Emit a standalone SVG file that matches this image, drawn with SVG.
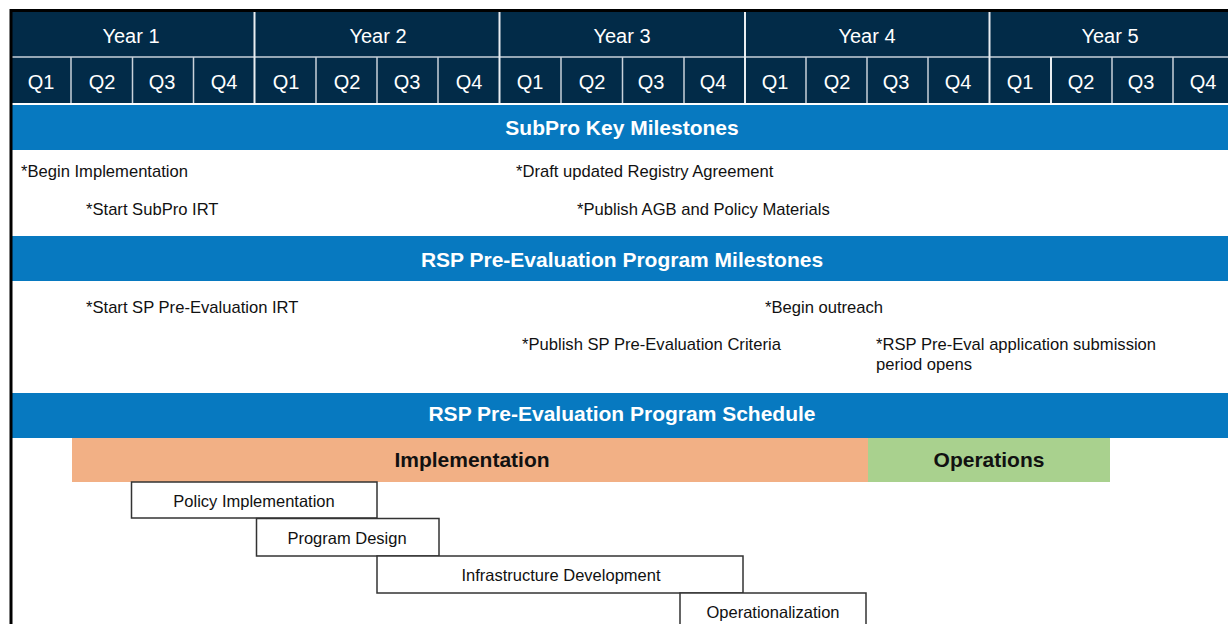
<svg xmlns="http://www.w3.org/2000/svg" width="1228" height="624" viewBox="0 0 1228 624">
<style>
  text { font-family: "Liberation Sans", Arial, sans-serif; }
  .hdr { fill: #022b48; }
  .hdrtxt { fill: #ffffff; font-size: 20px; text-anchor: middle; }
  .qline { stroke: #c9d2da; stroke-width: 1.5; }
  .yline { stroke: #e8edf1; stroke-width: 2; }
  .band { fill: #0779c0; }
  .bandtxt { fill: #ffffff; font-size: 21px; font-weight: bold; text-anchor: middle; }
  .ms { fill: #111111; font-size: 16.6px; }
  .box { fill: #ffffff; stroke: #333333; stroke-width: 1.5; }
  .boxtxt { fill: #111111; font-size: 16.5px; text-anchor: middle; }
  .phasetxt { fill: #111111; font-size: 21px; font-weight: bold; text-anchor: middle; }
</style>
<rect x="0" y="0" width="1228" height="624" fill="#ffffff"/>

<g id="header">
  <rect class="hdr" x="12" y="12" width="1216" height="91"/>
  <line class="qline" x1="12" y1="57" x2="1228" y2="57"/>
  <g id="quarter-lines">
    <line class="qline" x1="71" y1="57" x2="71" y2="103"/>
    <line class="qline" x1="132.5" y1="57" x2="132.5" y2="103"/>
    <line class="qline" x1="193.5" y1="57" x2="193.5" y2="103"/>
    <line class="qline" x1="316" y1="57" x2="316" y2="103"/>
    <line class="qline" x1="377" y1="57" x2="377" y2="103"/>
    <line class="qline" x1="438" y1="57" x2="438" y2="103"/>
    <line class="qline" x1="561" y1="57" x2="561" y2="103"/>
    <line class="qline" x1="622.5" y1="57" x2="622.5" y2="103"/>
    <line class="qline" x1="684" y1="57" x2="684" y2="103"/>
    <line class="qline" x1="806" y1="57" x2="806" y2="103"/>
    <line class="qline" x1="867" y1="57" x2="867" y2="103"/>
    <line class="qline" x1="928" y1="57" x2="928" y2="103"/>
    <line class="yline" x1="1051" y1="57" x2="1051" y2="103"/>
    <line class="qline" x1="1112" y1="57" x2="1112" y2="103"/>
    <line class="qline" x1="1173" y1="57" x2="1173" y2="103"/>
  </g>
  <g id="year-lines">
    <line class="yline" x1="254.5" y1="12" x2="254.5" y2="103"/>
    <line class="yline" x1="499.5" y1="12" x2="499.5" y2="103"/>
    <line class="yline" x1="745" y1="12" x2="745" y2="103"/>
    <line class="yline" x1="989.5" y1="12" x2="989.5" y2="103"/>
  </g>
  <g id="years">
    <text class="hdrtxt" x="131" y="43">Year 1</text>
    <text class="hdrtxt" x="378" y="43">Year 2</text>
    <text class="hdrtxt" x="622" y="43">Year 3</text>
    <text class="hdrtxt" x="867" y="43">Year 4</text>
    <text class="hdrtxt" x="1110" y="43">Year 5</text>
  </g>
  <g id="quarters">
    <text class="hdrtxt" x="41" y="89">Q1</text>
    <text class="hdrtxt" x="102" y="89">Q2</text>
    <text class="hdrtxt" x="162" y="89">Q3</text>
    <text class="hdrtxt" x="224" y="89">Q4</text>
    <text class="hdrtxt" x="286" y="89">Q1</text>
    <text class="hdrtxt" x="347" y="89">Q2</text>
    <text class="hdrtxt" x="407" y="89">Q3</text>
    <text class="hdrtxt" x="469" y="89">Q4</text>
    <text class="hdrtxt" x="530" y="89">Q1</text>
    <text class="hdrtxt" x="592" y="89">Q2</text>
    <text class="hdrtxt" x="651" y="89">Q3</text>
    <text class="hdrtxt" x="713" y="89">Q4</text>
    <text class="hdrtxt" x="775" y="89">Q1</text>
    <text class="hdrtxt" x="837" y="89">Q2</text>
    <text class="hdrtxt" x="896" y="89">Q3</text>
    <text class="hdrtxt" x="958" y="89">Q4</text>
    <text class="hdrtxt" x="1020" y="89">Q1</text>
    <text class="hdrtxt" x="1081" y="89">Q2</text>
    <text class="hdrtxt" x="1141" y="89">Q3</text>
    <text class="hdrtxt" x="1203" y="89">Q4</text>
  </g>
</g>

<g id="band-subpro">
  <rect class="band" x="12" y="105" width="1216" height="45"/>
  <text class="bandtxt" x="622" y="135">SubPro Key Milestones</text>
</g>
<g id="subpro-milestones">
  <text class="ms" x="21" y="177">*Begin Implementation</text>
  <text class="ms" x="86" y="215">*Start SubPro IRT</text>
  <text class="ms" x="516" y="177">*Draft updated Registry Agreement</text>
  <text class="ms" x="577" y="215">*Publish AGB and Policy Materials</text>
</g>

<g id="band-rsp-milestones">
  <rect class="band" x="12" y="236" width="1216" height="45"/>
  <text class="bandtxt" x="622" y="267">RSP Pre-Evaluation Program Milestones</text>
</g>
<g id="rsp-milestones">
  <text class="ms" x="86" y="313">*Start SP Pre-Evaluation IRT</text>
  <text class="ms" x="765" y="313">*Begin outreach</text>
  <text class="ms" x="522" y="350">*Publish SP Pre-Evaluation Criteria</text>
  <text class="ms" x="876" y="350">*RSP Pre-Eval application submission</text>
  <text class="ms" x="876" y="370">period opens</text>
</g>

<g id="band-rsp-schedule">
  <rect class="band" x="12" y="393" width="1216" height="45"/>
  <text class="bandtxt" x="622" y="421">RSP Pre-Evaluation Program Schedule</text>
</g>

<g id="phase-implementation">
  <rect x="72" y="438" width="796" height="44" fill="#f2b085"/>
  <text class="phasetxt" x="472" y="467">Implementation</text>
</g>
<g id="phase-operations">
  <rect x="868" y="438" width="242" height="44" fill="#a9d18e"/>
  <text class="phasetxt" x="989" y="467">Operations</text>
</g>

<g id="task-policy-implementation">
  <rect class="box" x="131.5" y="482" width="245.5" height="36"/>
  <text class="boxtxt" x="254" y="507">Policy Implementation</text>
</g>
<g id="task-program-design">
  <rect class="box" x="256.5" y="518.5" width="182.5" height="37.5"/>
  <text class="boxtxt" x="347" y="544">Program Design</text>
</g>
<g id="task-infrastructure-development">
  <rect class="box" x="377" y="556" width="366" height="37"/>
  <text class="boxtxt" x="561" y="581">Infrastructure Development</text>
</g>
<g id="task-operationalization">
  <rect class="box" x="680" y="593" width="186" height="40"/>
  <text class="boxtxt" x="773" y="618">Operationalization</text>
</g>

<g id="connectors"></g>

<g id="frame">
  <line x1="11" y1="10.5" x2="1228" y2="10.5" stroke="#000000" stroke-width="3"/>
  <line x1="11" y1="9" x2="11" y2="624" stroke="#000000" stroke-width="3"/>
</g>
</svg>
